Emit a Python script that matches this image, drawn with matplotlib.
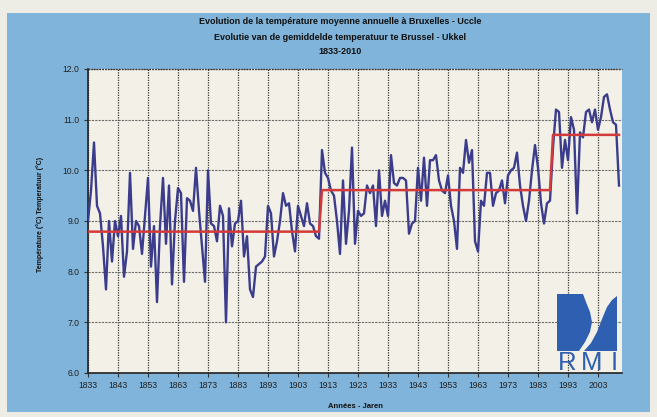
import numpy as np
import matplotlib
matplotlib.use("Agg")
import matplotlib.pyplot as plt
from matplotlib.patches import Rectangle, Polygon

plt.rcParams['font.family'] = ['Liberation Sans', 'DejaVu Sans']

# yearly mean temperature at Uccle
years = np.arange(1833, 2011)
temps = [
    9.0, 9.6, 10.55, 9.3, 9.15, 8.5, 7.65, 9.0, 8.2, 9.0,          # 1833-1842
    8.7, 9.1, 7.9, 8.4, 9.95, 8.45, 9.0, 8.9, 8.35, 9.1,            # 1843-1852
    9.85, 8.1, 8.9, 7.4, 8.9, 9.85, 8.55, 9.7, 7.75, 9.0,           # 1853-1862
    9.65, 9.55, 7.8, 9.45, 9.4, 9.2, 10.05, 9.2, 8.5, 7.8,          # 1863-1872
    10.0, 8.95, 8.9, 8.6, 9.3, 9.1, 7.0, 9.25, 8.5, 8.95,           # 1873-1882
    9.0, 9.4, 8.3, 8.7, 7.65, 7.5, 8.1, 8.15, 8.2, 8.3,             # 1883-1892
    9.3, 9.15, 8.3, 8.6, 9.0, 9.55, 9.3, 9.35, 8.8, 8.4,            # 1893-1902
    9.3, 9.1, 8.9, 9.35, 8.95, 8.9, 8.7, 8.65, 10.4, 9.95,          # 1903-1912
    9.85, 9.6, 9.5, 9.0, 8.35, 9.8, 8.55, 9.2, 10.45, 8.55,         # 1913-1922
    9.2, 9.1, 9.15, 9.7, 9.55, 9.7, 8.9, 10.0, 9.1, 9.4,            # 1923-1932
    9.1, 10.3, 9.75, 9.7, 9.85, 9.85, 9.8, 8.75, 8.95, 9.0,         # 1933-1942
    10.05, 9.4, 10.25, 9.3, 10.2, 10.2, 10.3, 9.8, 9.6, 9.55,       # 1943-1952
    9.9, 9.3, 9.0, 8.45, 10.05, 9.95, 10.6, 10.15, 10.4, 8.6,       # 1953-1962
    8.4, 9.4, 9.3, 9.95, 9.95, 9.3, 9.55, 9.6, 9.8, 9.35,           # 1963-1972
    9.9, 10.0, 10.05, 10.35, 9.7, 9.3, 9.0, 9.4, 10.0, 10.5,        # 1973-1982
    10.05, 9.35, 8.95, 9.35, 9.4, 10.45, 11.2, 11.15, 10.05, 10.6,  # 1983-1992
    10.2, 11.05, 10.8, 9.15, 10.75, 10.65, 11.15, 11.2, 10.95, 11.2, # 1993-2002
    10.8, 11.05, 11.45, 11.5, 11.2, 10.95, 10.9, 9.7,               # 2003-2010
]

# period means (red step line)
period_start = [1833, 1911, 1988]
period_end = [1910, 1987, 2010]
period_mean = [8.79, 9.61, 10.70]

title_lines = ["Evolution de la température moyenne annuelle à Bruxelles - Uccle",
               "Evolutie van de gemiddelde temperatuur te Brussel - Ukkel",
               "1833-2010"]

W, H = 657, 417
fig = plt.figure(figsize=(W / 100, H / 100), dpi=100)
fig.patch.set_facecolor("#eeede5")

# blue panel behind everything
bg = fig.add_axes([0, 0, 1, 1], zorder=-1)
bg.set_xlim(0, W)
bg.set_ylim(H, 0)
bg.axis("off")
bg.add_patch(Rectangle((7, 13), 643, 399, color="#80b4da", lw=0))

ax = fig.add_axes([88 / W, (H - 373) / H, 534 / W, 304 / H], zorder=1)
ax.set_facecolor("#f3f1e7")

mean_line = []
for s, e, m in zip(period_start, period_end, period_mean):
    mean_line += [m] * (e - s + 1)

ax.plot(years, temps, color="#3b3d8c", lw=1.7, zorder=3)
ax.plot(years, mean_line, color="#d33a3a", lw=1.8, zorder=4)

ax.set_xlim(1833, 2011)
ax.set_ylim(6, 12)
ax.set_xticks(np.arange(1833, 2004, 10))
ax.set_yticks(np.arange(6, 12.01, 1))
ax.set_yticklabels(["%.1f" % v for v in np.arange(6, 12.01, 1)])

ax.xaxis.grid(True, color="#333333", ls=(0, (1, 1)), lw=0.9)
ax.yaxis.grid(True, color="#6a6a6a", ls=(0, (2, 1)), lw=0.8)
ax.axhline(12, color="#333333", ls=(0, (1, 1)), lw=1.0, clip_on=False)
ax.set_axisbelow(True)

for side in ["top", "right"]:
    ax.spines[side].set_visible(False)
for side in ["left", "bottom"]:
    ax.spines[side].set_color("#222222")
    ax.spines[side].set_linewidth(1.2)

ax.tick_params(axis="both", direction="out", length=3, width=0.8, color="#333333",
               labelsize=6.2, labelcolor="#222222", pad=3)

for i, line in enumerate(title_lines):
    fig.text(340 / W, 1 - (22 + 15 * i) / H, line, ha="center", va="center",
             fontsize=6.5, fontweight="bold", color="#111111")
fig.text(40 / W, 1 - 214 / H, "Température (°C) Temperatuur (°C)", rotation=90,
         ha="center", va="center", fontsize=5, fontweight="bold", color="#111111")
fig.text(355 / W, 1 - 406 / H, "Années - Jaren", ha="center", va="center",
         fontsize=5.5, fontweight="bold", color="#111111")

# RMI logo
logo = fig.add_axes([0, 0, 1, 1], zorder=2)
logo.set_xlim(0, W)
logo.set_ylim(H, 0)
logo.axis("off")
blue = "#2f5fb0"
logo.add_patch(Polygon([(557, 294), (583, 294), (586, 302), (590, 312), (592, 322),
                        (590, 332), (585, 342), (579, 351), (557, 351)],
                       closed=True, color=blue, lw=0))
logo.add_patch(Polygon([(584, 351), (591, 343), (597, 332), (602, 319), (607, 307),
                        (612, 300), (617, 296), (617, 351)],
                       closed=True, color=blue, lw=0))
for letter, lx in zip("RMI", [567, 592, 614]):
    logo.text(lx, 363, letter, ha="center", va="center", fontsize=18.5,
              color=blue)

fig.savefig("out.png", dpi=100, facecolor=fig.get_facecolor())
